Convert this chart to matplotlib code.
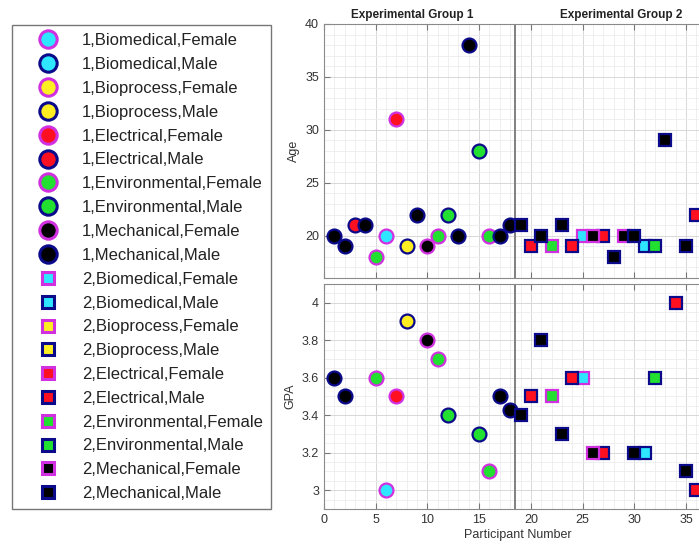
import matplotlib.pyplot as plt
from matplotlib.lines import Line2D
from matplotlib.ticker import MultipleLocator
import matplotlib.transforms as mtransforms

plt.rcParams['font.family'] = ['Liberation Sans', 'DejaVu Sans']

# participant records (None = not reported)
participant = list(range(1, 37))
group = [1] * 18 + [2] * 18
dept = ['Mechanical', 'Mechanical', 'Electrical', 'Mechanical', 'Environmental', 'Biomedical',
        'Electrical', 'Bioprocess', 'Mechanical', 'Mechanical', 'Environmental', 'Environmental',
        'Mechanical', 'Mechanical', 'Environmental', 'Environmental', 'Mechanical', 'Mechanical',
        'Mechanical', 'Electrical', 'Mechanical', 'Environmental', 'Mechanical', 'Electrical',
        'Biomedical', 'Mechanical', 'Electrical', 'Mechanical', 'Mechanical', 'Mechanical',
        'Biomedical', 'Environmental', 'Mechanical', 'Electrical', 'Mechanical', 'Electrical']
gender = ['Male', 'Male', 'Male', 'Male', 'Female', 'Female',
          'Female', 'Male', 'Male', 'Female', 'Female', 'Male',
          'Male', 'Male', 'Male', 'Female', 'Male', 'Male',
          'Male', 'Male', 'Male', 'Female', 'Male', 'Male',
          'Female', 'Female', 'Male', 'Male', 'Female', 'Male',
          'Male', 'Male', 'Male', 'Male', 'Male', 'Male']
age = [20, 19, 21, 21, 18, 20, 31, 19, 22, 19, 20, 22, 20, 38, 28, 20, 20, 21,
       21, 19, 20, 19, 21, 19, 20, 20, 20, 18, 20, 20, 19, 19, 29, None, 19, 22]
gpa = [3.6, 3.5, None, None, 3.6, 3.0, 3.5, 3.9, None, 3.8, 3.7, 3.4, None, None, 3.3, 3.1, 3.5, 3.43,
       3.4, 3.5, 3.8, 3.5, 3.3, 3.6, 3.6, 3.2, 3.2, None, None, 3.2, 3.2, 3.6, None, 4.0, 3.1, 3.0]

departments = ['Biomedical', 'Bioprocess', 'Electrical', 'Environmental', 'Mechanical']
genders = ['Female', 'Male']
fill = {'Biomedical': '#2ee6ff', 'Bioprocess': '#ffee22', 'Electrical': '#ff1020',
        'Environmental': '#22e030', 'Mechanical': '#000000'}
edge = {'Female': '#d030e0', 'Male': '#0a0a8a'}
shape = {1: 'o', 2: 's'}
size = {1: 10, 2: 8}

fig = plt.figure(figsize=(6.99, 5.44), dpi=100)
xmax = 37.4
width = xmax * 10.343 / 699
ax_age = fig.add_axes([324 / 699, 1 - 278 / 544, width, 254 / 544])
ax_gpa = fig.add_axes([324 / 699, 1 - 509 / 544, width, 225 / 544])

for g in (1, 2):
    for d in departments:
        for s in genders:
            idx = [i for i in range(len(participant))
                   if group[i] == g and dept[i] == d and gender[i] == s]
            for ax, vals in ((ax_age, age), (ax_gpa, gpa)):
                xs = [participant[i] for i in idx if vals[i] is not None]
                ys = [vals[i] for i in idx if vals[i] is not None]
                ax.plot(xs, ys, ls='none', marker=shape[g], ms=size[g],
                        mfc=fill[d], mec=edge[s], mew=1.6, zorder=3)

for ax in (ax_age, ax_gpa):
    ax.set_xlim(0, xmax)
    ax.axvline(18.5, color='#808080', lw=1.4, zorder=2)
    ax.xaxis.set_major_locator(MultipleLocator(5))
    ax.xaxis.set_minor_locator(MultipleLocator(1))
    ax.grid(which='major', color='#d8d8d8', lw=0.7)
    ax.grid(which='minor', color='#ececec', lw=0.6)
    ax.set_axisbelow(True)
    ax.tick_params(which='both', direction='in', top=True, right=True,
                   colors='#777777', labelcolor='#333333', labelsize=9)
    ax.tick_params(which='minor', length=0)
    ax.tick_params(which='major', length=4)
    for sp in ax.spines.values():
        sp.set_color('#8a8a8a')

ax_age.set_ylim(16, 40)
ax_age.yaxis.set_major_locator(MultipleLocator(5))
ax_age.yaxis.set_minor_locator(MultipleLocator(1))
ax_age.set_xticklabels([])
ax_age.set_ylabel('Age', fontsize=9, color='#333333')

ax_gpa.set_ylim(2.9, 4.1)
ax_gpa.yaxis.set_major_locator(MultipleLocator(0.2))
ax_gpa.yaxis.set_minor_locator(MultipleLocator(0.05))
ax_gpa.set_yticks([3, 3.2, 3.4, 3.6, 3.8, 4])
ax_gpa.set_yticklabels(['3', '3.2', '3.4', '3.6', '3.8', '4'])
ax_gpa.set_ylabel('GPA', fontsize=9, color='#333333')
ax_gpa.set_xlabel('Participant Number', fontsize=9, color='#333333', labelpad=2)

trans = mtransforms.blended_transform_factory(ax_age.transData, ax_age.transAxes)
ax_age.text(8.5, 1.012, 'Experimental Group 1', transform=trans, ha='center', va='bottom',
            fontsize=8.5, fontweight='bold', color='#222222')
ax_age.text(28.7, 1.012, 'Experimental Group 2', transform=trans, ha='center', va='bottom',
            fontsize=8.5, fontweight='bold', color='#222222')

handles = []
labels = []
for g in (1, 2):
    for d in departments:
        for s in genders:
            handles.append(Line2D([], [], ls='none', marker=shape[g],
                                  ms=size[g] + 2.5 if g == 1 else size[g] + 1,
                                  mfc=fill[d], mec=edge[s], mew=2.2))
            labels.append(f'{g},{d},{s}')

fig.legend(handles, labels, loc='upper left', bbox_to_anchor=(12 / 699, 1 - 25 / 544),
           borderaxespad=0, fontsize=12, frameon=True, fancybox=False, edgecolor='#555555',
           labelspacing=0.53, handletextpad=0.4, borderpad=0.5, handlelength=3.3,
           labelcolor='#222222')

fig.savefig('out.png', dpi=100)
